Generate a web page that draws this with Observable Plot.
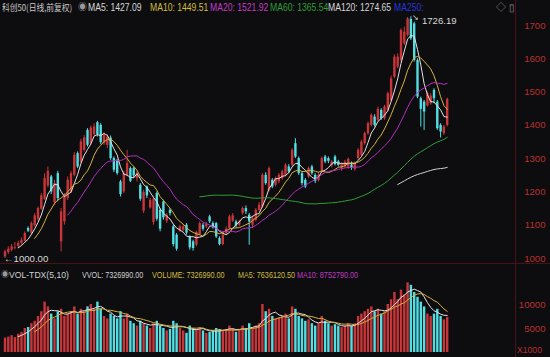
<!DOCTYPE html>
<html><head><meta charset="utf-8">
<script src="https://cdn.jsdelivr.net/npm/d3@7"></script>
<script src="https://cdn.jsdelivr.net/npm/@observablehq/plot@0.6"></script>
<style>
html,body{margin:0;padding:0;background:#0d0d0f;}
#wrap{position:relative;width:550px;height:357px;background:#0d0d0f;overflow:hidden;font-family:"Liberation Sans","Noto Sans CJK SC",sans-serif;}
.t{position:absolute;font-size:10px;white-space:nowrap;line-height:1;transform-origin:0 0;transform:scaleX(0.86);}
.v{position:absolute;font-size:8.8px;white-space:nowrap;line-height:1;transform-origin:0 0;transform:scaleX(0.82);}
#price,#vol{position:absolute;left:0;}
#price{top:0;} #vol{top:263px;}
.vline{position:absolute;left:515px;top:0;width:1px;height:357px;background:#4a1214;}
.hline{position:absolute;left:0;top:263px;width:550px;height:1px;background:#4a1214;}
</style></head>
<body><div id="wrap">
<div id="price"></div><div id="vol"></div>
<div class="vline"></div><div class="hline"></div>
<div class="t" style="left:2px;top:3px;color:#c8c8c8;font-family:'Noto Sans CJK SC';font-size:9px;transform:scaleX(0.86);">科创50(日线,前复权)</div>
<div class="t" style="left:78px;top:3px;color:#9a9a9a;transform:none;font-size:9px;">◉</div>
<div class="t" style="left:88px;top:3px;color:#d6d6d6;">MA5: 1427.09</div>
<div class="t" style="left:150px;top:3px;color:#d2bc3c;">MA10: 1449.51</div>
<div class="t" style="left:210px;top:3px;color:#c23ac6;">MA20: 1521.92</div>
<div class="t" style="left:270px;top:3px;color:#2f9e36;">MA60: 1365.54</div>
<div class="t" style="left:328px;top:3px;color:#d6d6d6;">MA120: 1274.65</div>
<div class="t" style="left:394px;top:3px;color:#2436d8;">MA250:</div>
<div class="t" style="left:496px;top:3px;color:#8a8a8a;transform:none;">◇ ▯</div>
<div class="v" style="left:1px;top:271px;color:#9a9a9a;transform:none;font-size:8px;">◉</div>
<div class="v" style="left:9px;top:271px;color:#d0d0d0;transform:scaleX(0.98);">VOL-TDX(5,10)</div>
<div class="v" style="left:82px;top:271px;color:#d0d0d0;">VVOL: 7326990.00</div>
<div class="v" style="left:152px;top:271px;color:#d2bc3c;">VOLUME: 7326990.00</div>
<div class="v" style="left:238px;top:271px;color:#d2bc3c;">MA5: 7636120.50</div>
<div class="v" style="left:297px;top:271px;color:#c23ac6;">MA10: 8752790.00</div>
<div class="v" style="left:517px;top:345px;color:#b8302e;font-size:9.6px;transform:scaleX(0.9);">X1000</div>
</div>
<script>
const openP = [1005,1018,1025,1030,1036,1045,1052,1090,1075,1098,1118,1148,1178,1218,1245,1168,1255,1050,1110,1180,1200,1250,1315,1290,1325,1385,1345,1372,1408,1400,1345,1340,1362,1300,1292,1230,1200,1250,1270,1270,1240,1220,1142,1215,1152,1108,1195,1145,1170,1112,1145,1095,1070,1082,1085,1100,1065,1050,1040,1072,1100,1095,1125,1105,1105,1060,1042,1075,1090,1112,1110,1100,1135,1150,1130,1100,1115,1145,1155,1250,1205,1235,1220,1230,1240,1250,1275,1280,1345,1300,1255,1235,1245,1275,1250,1235,1262,1305,1300,1278,1305,1290,1270,1275,1275,1280,1268,1300,1310,1345,1375,1400,1425,1415,1445,1420,1445,1475,1545,1575,1595,1645,1670,1718,1705,1595,1480,1470,1458,1465,1505,1470,1400,1375,1400];
const closeP = [1020,1028,1035,1032,1045,1055,1075,1082,1105,1128,1150,1188,1240,1262,1200,1225,1180,1140,1185,1235,1255,1310,1275,1350,1362,1340,1392,1395,1372,1348,1370,1365,1300,1265,1255,1192,1255,1285,1232,1248,1255,1178,1198,1188,1175,1178,1118,1088,1122,1130,1135,1042,1028,1095,1095,1076,1032,1030,1078,1105,1088,1102,1110,1092,1065,1042,1070,1088,1125,1128,1098,1110,1150,1140,1110,1120,1145,1160,1250,1225,1270,1215,1240,1250,1260,1280,1260,1325,1305,1255,1225,1215,1270,1255,1232,1250,1300,1290,1292,1290,1282,1280,1282,1290,1298,1272,1285,1325,1350,1375,1405,1430,1400,1448,1420,1455,1495,1540,1605,1605,1685,1680,1720,1660,1595,1485,1448,1440,1495,1488,1480,1390,1380,1395,1478];
const highP = [1025,1035,1042,1048,1052,1062,1080,1095,1110,1135,1155,1195,1255,1275,1250,1235,1262,1150,1195,1245,1262,1318,1320,1358,1370,1390,1398,1405,1412,1405,1378,1372,1368,1305,1298,1235,1262,1325,1275,1275,1262,1225,1205,1218,1180,1185,1200,1150,1175,1135,1150,1100,1075,1100,1102,1105,1068,1055,1082,1110,1105,1108,1130,1110,1108,1065,1075,1095,1130,1135,1115,1115,1155,1158,1135,1128,1150,1168,1255,1258,1275,1240,1245,1255,1265,1285,1282,1330,1360,1305,1260,1240,1275,1280,1255,1258,1305,1310,1305,1295,1310,1295,1288,1295,1302,1290,1290,1330,1355,1380,1410,1435,1432,1455,1450,1460,1500,1548,1612,1615,1690,1695,1724,1726.19,1710,1600,1485,1475,1500,1495,1510,1475,1405,1400,1482];
const lowP = [1000,1012,1020,1026,1030,1040,1050,1078,1070,1095,1112,1145,1175,1212,1192,1160,1170,1020,1100,1175,1195,1245,1270,1285,1320,1335,1340,1368,1365,1342,1340,1330,1295,1258,1250,1185,1195,1245,1228,1240,1230,1172,1135,1180,1148,1100,1112,1080,1115,1105,1128,1035,1022,1078,1080,1070,1025,1022,1035,1068,1082,1090,1105,1088,1060,1038,1038,1070,1085,1108,1092,1095,1130,1132,1040,1090,1110,1140,1150,1220,1200,1210,1215,1225,1235,1245,1255,1275,1300,1250,1218,1210,1240,1250,1225,1230,1258,1285,1285,1272,1278,1275,1262,1270,1268,1265,1262,1295,1305,1340,1370,1395,1395,1410,1415,1415,1440,1470,1540,1570,1590,1640,1665,1655,1590,1480,1395,1385,1455,1460,1465,1385,1362,1370,1395];
const volume = [3000,3200,3500,3100,3800,4200,5000,5200,6000,6500,7500,8500,10500,9500,8000,7000,8500,9000,7500,8000,8500,9500,8000,9000,8500,9500,10000,9000,10500,9000,7500,7000,8000,7500,7000,8500,7000,8000,6500,6000,5500,6500,6000,5500,5000,6000,6500,5500,5000,4500,4800,6500,6000,5000,4500,4000,5500,5000,4800,5200,4500,4000,4200,4500,5000,4800,4500,4800,5500,5000,4200,4500,5500,5000,6000,5200,5500,6000,10000,8500,9000,7500,7000,7200,7500,8000,7000,9500,9000,7500,7000,6500,6800,6000,5500,6000,7500,6500,6000,5500,5800,5500,5200,5500,6000,5500,6000,7500,8000,8500,9000,9500,8500,9000,8000,8500,10000,11000,12500,11000,13000,12000,14500,14000,12500,11500,10500,9500,8000,7500,8000,9000,7500,6800,7327];
const priceTicks = [1000,1100,1200,1300,1400,1500,1600,1700];
const volTicks = [5000,10000];

const RED = "#c8363a", CYAN = "#52dfe4", AXIS = "#b8302e";
const bars = closeP.map((c, i) => ({i, o: openP[i], h: highP[i], l: lowP[i], c, v: volume[i], up: c >= openP[i]}));
const col = d => d.up ? RED : CYAN;
const ma = (k, y, stroke) => Plot.lineY(bars, Plot.windowY({k, anchor: "end", strict: true}, {x: "i", y, stroke, strokeWidth: 1}));
const hi = bars.reduce((a, b) => b.h > a.h ? b : a);
const lo = bars.reduce((a, b) => b.l < a.l ? b : a);
const font = "Liberation Sans, sans-serif";
const fmt = d => String(d);

const price = Plot.plot({
  width: 550, height: 263, marginLeft: 0, marginRight: 35, marginTop: 0, marginBottom: 0,
  style: {background: "transparent", fontFamily: font, fontSize: "9.6px"},
  x: {type: "linear", domain: [0, bars.length - 1], range: [4.5, 446.7], axis: null},
  y: {domain: [1000, 1700], range: [258, 25], axis: null},
  marks: [
    Plot.axisY(priceTicks, {anchor: "right", tickSize: 0, tickPadding: 0, textAnchor: "end", dx: 30, fill: AXIS, label: null, tickFormat: fmt}),
    Plot.ruleX(bars, {x: "i", y1: "l", y2: "h", stroke: col, strokeWidth: 1}),
    Plot.ruleX(bars, {x: "i", y1: "o", y2: "c", stroke: col, strokeWidth: 2.4}),
    ma(5, "c", "#e2e2e2"),
    ma(10, "c", "#d6b23a"),
    ma(20, "c", "#b52ec0"),
    ma(60, "c", "#2f9e36"),
    ma(120, "c", "#d0d0d0"),
    Plot.text([hi], {x: "i", y: "h", text: d => d.h.toFixed(2), dx: 11, dy: 4, textAnchor: "start", fill: "#d8d8d8"}),
    Plot.text([hi], {x: "i", y: "h", text: () => "↘", dx: 5, dy: 1, fill: "#d8d8d8", fontSize: 8}),
    Plot.text([lo], {x: "i", y: "l", text: d => "←" + d.l.toFixed(2), dx: -1, textAnchor: "start", fill: "#d8d8d8"})
  ]
});
document.getElementById("price").appendChild(price);

const vol = Plot.plot({
  width: 550, height: 94, marginLeft: 0, marginRight: 35, marginTop: 0, marginBottom: 0,
  style: {background: "transparent", fontFamily: font, fontSize: "9.6px"},
  x: {type: "linear", domain: [0, bars.length - 1], range: [4.5, 446.7], axis: null},
  y: {domain: [0, 10000], range: [89, 41], axis: null},
  marks: [
    Plot.axisY(volTicks, {anchor: "right", tickSize: 0, tickPadding: 0, textAnchor: "end", dx: 30, fill: AXIS, label: null, tickFormat: fmt}),
    Plot.ruleX(bars, {x: "i", y1: 0, y2: "v", stroke: col, strokeWidth: 2.4}),
    ma(5, "v", "#e2e2e2"),
    ma(10, "v", "#d6b23a")
  ]
});
document.getElementById("vol").appendChild(vol);
</script>
</body></html>
